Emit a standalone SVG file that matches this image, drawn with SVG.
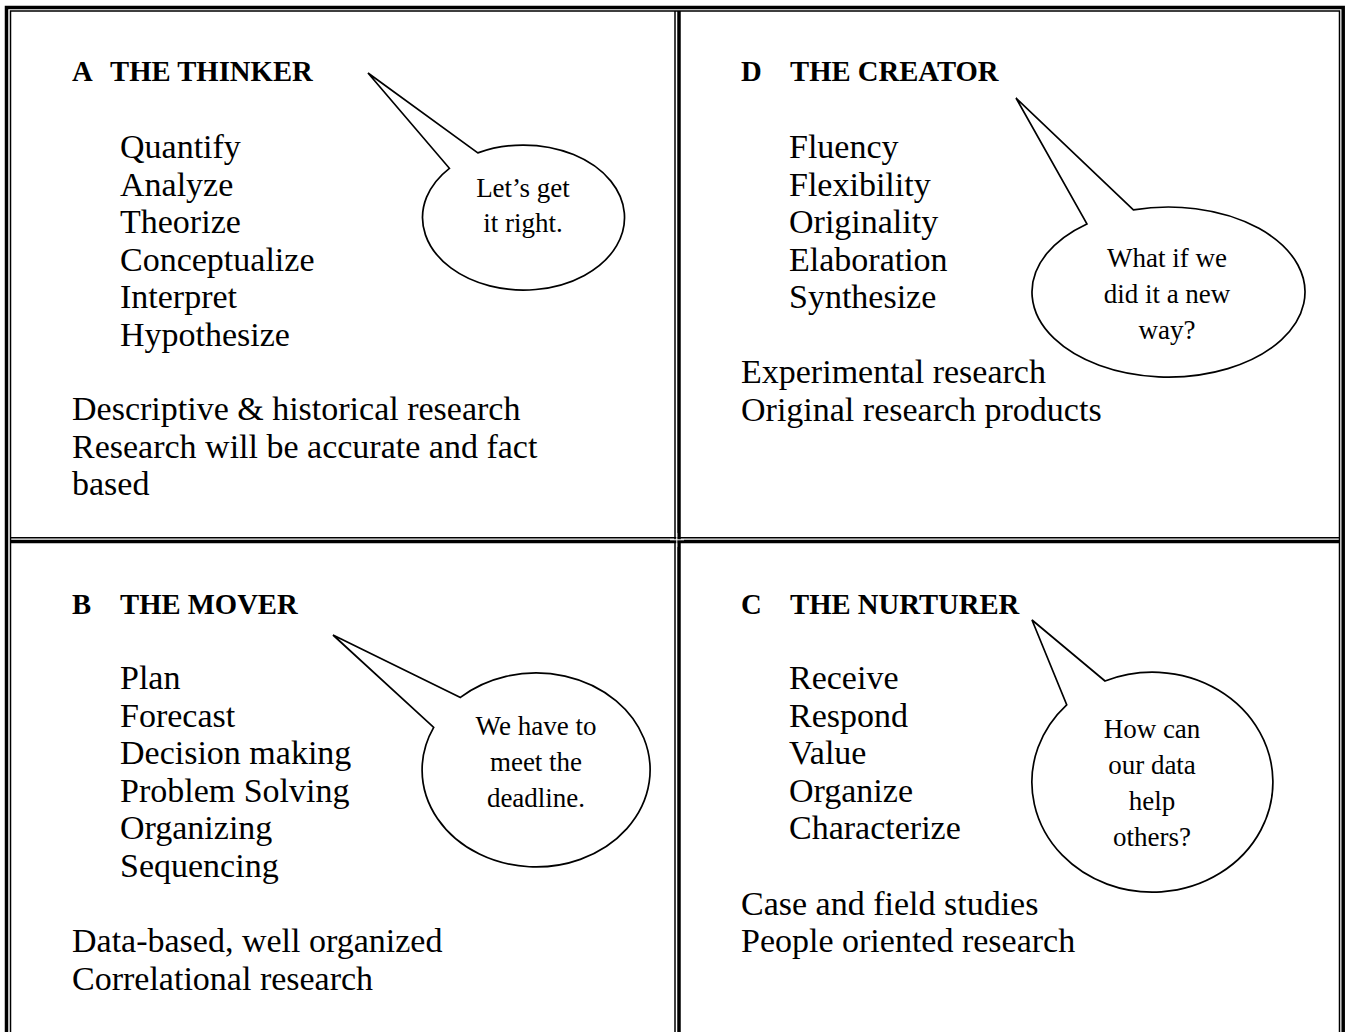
<svg xmlns="http://www.w3.org/2000/svg" width="1345" height="1032" viewBox="0 0 1345 1032">
<style>
  text { font-family: "Liberation Serif", "Times New Roman", serif; fill: #000; }
  .title { font-size: 28.7px; font-weight: bold; }
  .body { font-size: 34px; }
  .bub { font-size: 27px; text-anchor: middle; }
  .callout { fill: #fff; stroke: #000; stroke-width: 1.7; stroke-linejoin: miter; }
  .thick { stroke: #000; stroke-width: 3.5; fill: none; }
  .thin { stroke: #000; stroke-width: 1.5; fill: none; }
  .gap { stroke: #fff; stroke-width: 1; fill: none; }
</style>
<rect x="0" y="0" width="1345" height="1032" fill="#fff"/>
<g id="frame">
  <path class="thick" d="M6.5,1032 V7.5 H1343.2 V1032"/>
  <path class="thin" d="M10.5,1032 V11 H1339.5 V1032"/>
  <line class="thin" x1="675" y1="11" x2="675" y2="1032"/>
  <line class="thick" x1="679" y1="11" x2="679" y2="1032"/>
  <line class="thin" x1="10.5" y1="537.8" x2="1339.5" y2="537.8"/>
  <line class="thick" x1="10.5" y1="541.5" x2="1339.5" y2="541.5"/>
  <line class="gap" x1="670" y1="539.8" x2="684" y2="539.8"/>
  <line class="gap" x1="676.8" y1="533" x2="676.8" y2="547"/>
</g>
<g id="nodeA">
  <text class="title" x="72" y="81">A</text>
  <text class="title" x="110" y="81">THE THINKER</text>
  <text class="body" x="120" y="158">Quantify</text>
  <text class="body" x="120" y="195.5">Analyze</text>
  <text class="body" x="120" y="233">Theorize</text>
  <text class="body" x="120" y="270.5">Conceptualize</text>
  <text class="body" x="120" y="308">Interpret</text>
  <text class="body" x="120" y="345.5">Hypothesize</text>
  <text class="body" x="72" y="420">Descriptive &amp; historical research</text>
  <text class="body" x="72" y="457.5">Research will be accurate and fact</text>
  <text class="body" x="72" y="495">based</text>
</g>
<g id="calloutA">
  <path class="callout" d="M477.8,152.9 L368,73 L449.4,168.3 A101 72.5 0 1 0 477.8,152.9 Z"/>
  <text class="bub" x="523" y="197">Let’s get</text>
  <text class="bub" x="523" y="232">it right.</text>
</g>
<g id="nodeD">
  <text class="title" x="741" y="81">D</text>
  <text class="title" x="790" y="81">THE CREATOR</text>
  <text class="body" x="789" y="158">Fluency</text>
  <text class="body" x="789" y="195.5">Flexibility</text>
  <text class="body" x="789" y="233">Originality</text>
  <text class="body" x="789" y="270.5">Elaboration</text>
  <text class="body" x="789" y="308">Synthesize</text>
  <text class="body" x="741" y="383">Experimental research</text>
  <text class="body" x="741" y="420.5">Original research products</text>
</g>
<g id="calloutD">
  <path class="callout" d="M1133.4,209.9 L1016,98 L1086.9,223.9 A136.5 85 0 1 0 1133.4,209.9 Z"/>
  <text class="bub" x="1167" y="267">What if we</text>
  <text class="bub" x="1167" y="303">did it a new</text>
  <text class="bub" x="1167" y="339">way?</text>
</g>
<g id="nodeB">
  <text class="title" x="72" y="614">B</text>
  <text class="title" x="120" y="614">THE MOVER</text>
  <text class="body" x="120" y="689">Plan</text>
  <text class="body" x="120" y="726.5">Forecast</text>
  <text class="body" x="120" y="764">Decision making</text>
  <text class="body" x="120" y="801.5">Problem Solving</text>
  <text class="body" x="120" y="839">Organizing</text>
  <text class="body" x="120" y="876.5">Sequencing</text>
  <text class="body" x="72" y="952">Data-based, well organized</text>
  <text class="body" x="72" y="989.5">Correlational research</text>
</g>
<g id="calloutB">
  <path class="callout" d="M460.4,697.4 L333,635 L433.7,727.3 A114 97 0 1 0 460.4,697.4 Z"/>
  <text class="bub" x="536" y="735">We have to</text>
  <text class="bub" x="536" y="771">meet the</text>
  <text class="bub" x="536" y="807">deadline.</text>
</g>
<g id="nodeC">
  <text class="title" x="741" y="614">C</text>
  <text class="title" x="790" y="614">THE NURTURER</text>
  <text class="body" x="789" y="689">Receive</text>
  <text class="body" x="789" y="726.5">Respond</text>
  <text class="body" x="789" y="764">Value</text>
  <text class="body" x="789" y="801.5">Organize</text>
  <text class="body" x="789" y="839">Characterize</text>
  <text class="body" x="741" y="914.5">Case and field studies</text>
  <text class="body" x="741" y="952">People oriented research</text>
</g>
<g id="calloutC">
  <path class="callout" d="M1105,681 L1032,620 L1066.7,704.8 A120.5 110 0 1 0 1105,681 Z"/>
  <text class="bub" x="1152" y="738">How can</text>
  <text class="bub" x="1152" y="774">our data</text>
  <text class="bub" x="1152" y="810">help</text>
  <text class="bub" x="1152" y="846">others?</text>
</g>
</svg>
